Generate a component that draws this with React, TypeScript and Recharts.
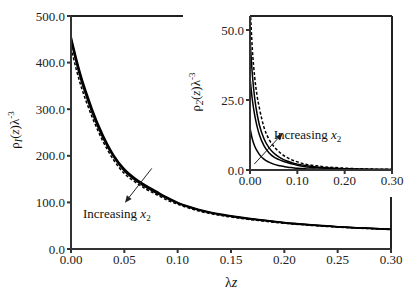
import React from 'react';
import { LineChart, Line, XAxis, YAxis, ReferenceLine } from 'recharts';

const zValues = [0, 0.005, 0.01, 0.015, 0.02, 0.03, 0.04, 0.05, 0.06, 0.07, 0.08, 0.09, 0.1, 0.12, 0.14, 0.16, 0.18, 0.2, 0.22, 0.25, 0.28, 0.3];

const rho1Curve1 = [457, 410, 368, 333, 300, 245, 202, 172, 152, 137, 124, 111, 100, 85, 75, 68, 62, 57, 53, 48, 44.5, 42.5];
const rho1Curve2 = [452, 405, 363, 328, 296, 242, 200, 170, 150, 135, 122, 110, 99, 84, 74, 67, 61.5, 56.5, 52.5, 47.7, 44.3, 42.3];
const rho1Curve3 = [446, 399, 357, 323, 291, 238, 197, 167, 148, 133, 120, 108, 98, 83, 73.5, 66.5, 61, 56, 52, 47.4, 44, 42.1];
const rho1Curve4 = [432, 385, 345, 312, 282, 231, 191, 162, 144, 129, 117, 105, 96, 81.5, 72, 65.5, 60, 55.3, 51.5, 47, 43.7, 41.9];

const rho2Curve1 = [15, 11, 8.5, 6.8, 5.5, 3.8, 2.8, 2.1, 1.6, 1.3, 1.0, 0.8, 0.6, 0.4, 0.3, 0.22, 0.17, 0.13, 0.1, 0.07, 0.05, 0.04];
const rho2Curve2 = [33, 25, 19.5, 15.5, 12.5, 8.5, 6.2, 4.7, 3.8, 3.1, 2.6, 2.1, 1.7, 1.1, 0.8, 0.6, 0.45, 0.35, 0.28, 0.2, 0.15, 0.12];
const rho2Curve3 = [47, 34, 25.5, 20, 16, 11, 8, 6.1, 4.8, 3.8, 3.1, 2.5, 2.1, 1.5, 1.1, 0.8, 0.6, 0.47, 0.37, 0.27, 0.2, 0.16];
const rho2Curve4 = [60, 43, 33, 26.5, 22, 15, 11, 8.5, 6.7, 5.3, 4.3, 3.5, 2.9, 2.0, 1.5, 1.1, 0.85, 0.65, 0.5, 0.36, 0.27, 0.22];

const mainXTicks = [0, 0.05, 0.1, 0.15, 0.2, 0.25, 0.3];
const mainYTicks = [0, 100, 200, 300, 400, 500];
const insetXTicks = [0, 0.1, 0.2, 0.3];
const insetYTicks = [0, 25, 50];

const mainData = zValues.map((z, i) => ({ z, a: rho1Curve1[i], b: rho1Curve2[i], c: rho1Curve3[i], d: rho1Curve4[i] }));
const insetData = zValues.map((z, i) => ({ z, a: rho2Curve1[i], b: rho2Curve2[i], c: rho2Curve3[i], d: rho2Curve4[i] }));

const FONT = 'Liberation Serif';
const AXIS = '#333';
const tickStyle = { fontFamily: FONT, fontSize: 13, fill: '#222', style: { fontFamily: FONT } };

const makeArrow = (textDx: number, textDy: number) => (props: any) => {
  const { x1, y1, x2, y2 } = props;
  const ang = Math.atan2(y2 - y1, x2 - x1);
  const L = 7;
  const W = 3;
  const bx = x2 - L * Math.cos(ang);
  const by = y2 - L * Math.sin(ang);
  const px = -Math.sin(ang) * W;
  const py = Math.cos(ang) * W;
  return (
    <g>
      <line x1={x1} y1={y1} x2={bx} y2={by} stroke="#222" strokeWidth={1} />
      <polygon points={`${x2},${y2} ${bx + px},${by + py} ${bx - px},${by - py}`} fill="#222" />
      <text x={x2 + textDx} y={y2 + textDy} style={{ fontFamily: FONT }} fontSize={13} fill="#111">
        Increasing <tspan fontStyle="italic">x</tspan>
        <tspan fontSize={9} dy={3}>2</tspan>
      </text>
    </g>
  );
};

const YLabel = (sub: string, cx: number, cy: number) => () => (
  <text x={cx} y={cy} transform={`rotate(-90, ${cx}, ${cy})`} textAnchor="middle" style={{ fontFamily: FONT }} fontSize={13} fill="#111">
    <tspan>ρ</tspan>
    <tspan fontSize={10} fontStyle="italic" dy={3}>{sub}</tspan>
    <tspan dy={-3}>(</tspan>
    <tspan fontStyle="italic">z</tspan>
    <tspan>)λ</tspan>
    <tspan fontSize={9} dy={-5}>-3</tspan>
  </text>
);

const XLabel = () => (
  <text x={231} y={287} textAnchor="middle" style={{ fontFamily: FONT }} fontSize={14} fill="#111">
    λ<tspan fontStyle="italic">z</tspan>
  </text>
);

export default function App() {
  return (
    <div style={{ position: 'absolute', left: 0, top: 0, width: 415, height: 291, background: '#fff', fontFamily: FONT }}>
      <LineChart width={415} height={291} data={mainData} margin={{ top: 16, right: 24, left: 0, bottom: 0 }} style={{ fontFamily: FONT }}>
        <XAxis
          dataKey="z"
          type="number"
          domain={[0, 0.3]}
          ticks={mainXTicks}
          tickFormatter={(v: number) => v.toFixed(2)}
          height={42}
          stroke={AXIS}
          strokeWidth={2}
          tickSize={4}
          tick={tickStyle}
          label={{ content: XLabel }}
        />
        <YAxis
          type="number"
          domain={[0, 500]}
          ticks={mainYTicks}
          tickFormatter={(v: number) => v.toFixed(1)}
          width={71}
          stroke={AXIS}
          strokeWidth={2}
          tickSize={4}
          tick={tickStyle}
          label={{ content: YLabel('I', 19, 130) }}
        />
        <ReferenceLine y={500} stroke="#222" strokeWidth={2} />
        <ReferenceLine x={0.3} stroke="#222" strokeWidth={2} />
        <Line type="monotone" dataKey="a" stroke="#000" strokeWidth={1.5} dot={false} isAnimationActive={false} />
        <Line type="monotone" dataKey="b" stroke="#000" strokeWidth={1.5} dot={false} isAnimationActive={false} />
        <Line type="monotone" dataKey="c" stroke="#000" strokeWidth={1.5} dot={false} isAnimationActive={false} />
        <Line type="monotone" dataKey="d" stroke="#000" strokeWidth={1.5} strokeDasharray="3 2" dot={false} isAnimationActive={false} />
        <ReferenceLine
          segment={[{ x: 0.0757, y: 173 }, { x: 0.0506, y: 99.4 }]}
          shape={makeArrow(-42, 15)}
        />
      </LineChart>
      <div style={{ position: 'absolute', left: 183, top: 0, width: 232, height: 197, background: '#fff' }}>
        <LineChart width={232} height={197} data={insetData} margin={{ top: 16, right: 23, left: 0, bottom: 0 }} style={{ fontFamily: FONT }}>
          <XAxis
            dataKey="z"
            type="number"
            domain={[0, 0.3]}
            ticks={insetXTicks}
            tickFormatter={(v: number) => v.toFixed(2)}
            height={27}
            stroke={AXIS}
            strokeWidth={2}
            tickSize={4}
            tick={tickStyle}
          />
          <YAxis
            type="number"
            domain={[0, 55]}
            allowDataOverflow
            ticks={insetYTicks}
            tickFormatter={(v: number) => v.toFixed(1)}
            width={67}
            stroke={AXIS}
            strokeWidth={2}
            tickSize={4}
            tick={tickStyle}
            label={{ content: YLabel('2', 17, 92) }}
          />
          <ReferenceLine y={55} stroke="#222" strokeWidth={2} />
          <ReferenceLine x={0.3} stroke="#222" strokeWidth={2} />
          <Line type="monotone" dataKey="a" stroke="#000" strokeWidth={1.5} dot={false} isAnimationActive={false} />
          <Line type="monotone" dataKey="b" stroke="#000" strokeWidth={1.5} dot={false} isAnimationActive={false} />
          <Line type="monotone" dataKey="c" stroke="#000" strokeWidth={1.5} dot={false} isAnimationActive={false} />
          <Line type="monotone" dataKey="d" stroke="#000" strokeWidth={1.5} strokeDasharray="3 2" dot={false} isAnimationActive={false} />
          <ReferenceLine
            segment={[{ x: 0.009, y: 2.1 }, { x: 0.069, y: 13.1 }]}
            shape={makeArrow(-9, 6)}
          />
        </LineChart>
      </div>
    </div>
  );
}
